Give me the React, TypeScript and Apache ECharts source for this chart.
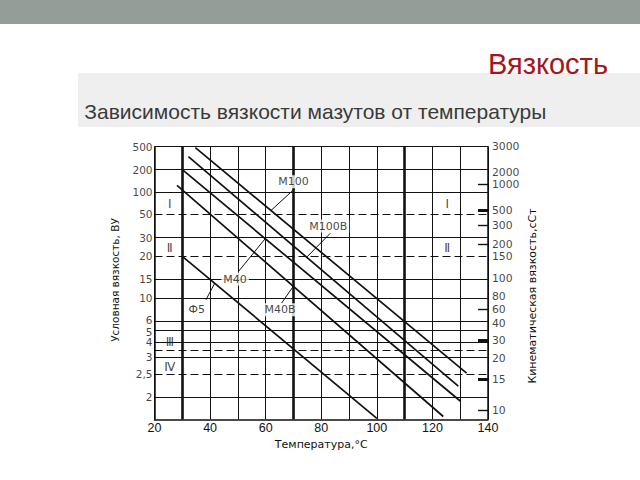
import React, { useEffect, useRef } from "react";
import * as echarts from "echarts";

// ---------- data ----------
// temperature axis (°C)
const tempMin = 20;
const tempMax = 140;
const tempStep = 10;
const heavyTemps = [30, 70, 110];

// left scale: conditional viscosity, °ВУ (nomogram scale: tick value -> scale position)
const vuTicks = [500, 200, 100, 50, 30, 20, 15, 10, 6, 5, 4, 3, 2.5, 2];
const vuTickLabels = ["500", "200", "100", "50", "30", "20", "15", "10", "6", "5", "4", "3", "2,5", "2"];
const vuScale = [272.6, 249.7, 227.1, 205.1, 181.8, 163.0, 140.2, 121.3, 98.3, 89.0, 77.0, 62.0, 45.0, 22.0];
const vuDashed = [50, 20, 3.45, 2.5];

// right scale: kinematic viscosity, cSt
const cstTicks = [3000, 2000, 1000, 500, 300, 200, 150, 100, 80, 60, 40, 30, 20, 15, 10];
const cstScale = [272.6, 247.0, 235.0, 209.3, 194.3, 175.0, 163.3, 141.0, 123.3, 110.0, 96.0, 79.3, 61.0, 40.0, 9.3];
const cstMarked = [1000, 500, 300, 200, 60, 30, 15, 10];
const cstMarkedHeavy = [500, 30, 15];

// fuel oil grades: straight lines (temperature, °ВУ)
const grades = ["М100", "М100В", "М40", "М40В", "Ф5"];
const gradeStartT = [34.7, 32.2, 30, 28.1, 30];
const gradeStartVU = [480, 335, 200, 123.6, 20];
const gradeEndT = [132.3, 129.3, 130, 123.9, 100];
const gradeEndVU = [2.53, 2.23, 1.93, 1.66, 1.63];

// grade captions and their leader lines
const gradeLabelT = [70, 82.5, 49, 65.2, 35.2];
const gradeLabelVU = [138, 38.6, 15, 7.7, 7.7];
const leaderFromT = [70.3, 83.2, 50.2, 65.7, 38.5];
const leaderFromVU = [110, 32.8, 16.5, 8.9, 9.6];
const leaderToT = [61.9, 74.8, 59.9, 69.9, 41.6];
const leaderToVU = [56.2, 19.8, 29.4, 12.8, 13.6];

// zone numerals
const zones = ["Ⅰ", "Ⅰ", "Ⅱ", "Ⅱ", "Ⅲ", "Ⅳ"];
const zoneT = [25.5, 125.3, 25.5, 125.3, 25.5, 25.5];
const zoneVU = [70, 70, 23.7, 23.7, 4, 2.71];

// ---------- helpers ----------
function scalePos(v: number, ticks: number[], pos: number[]): number {
  const lv = Math.log10(v);
  let i = 0;
  while (i < ticks.length - 2 && lv < Math.log10(ticks[i + 1])) i++;
  const a = Math.log10(ticks[i]);
  const b = Math.log10(ticks[i + 1]);
  return pos[i] + ((lv - a) / (b - a)) * (pos[i + 1] - pos[i]);
}
const vu = (v: number) => scalePos(v, vuTicks, vuScale);
const cst = (v: number) => scalePos(v, cstTicks, cstScale);

const INK = "#111";
const FONT = "DejaVu Sans";

function labelSeries(data: any[], position: any, distance: number, extra: any = {}) {
  return {
    type: "scatter",
    symbolSize: 1,
    itemStyle: { color: "rgba(0,0,0,0)" },
    clip: false,
    silent: true,
    z: 6,
    data,
    label: {
      show: true,
      position,
      distance,
      formatter: "{b}",
      fontFamily: FONT,
      fontSize: 11,
      color: INK,
      ...extra,
    },
  };
}

const centered = { align: "center", verticalAlign: "middle" };

function buildOption(): any {
  const top = vuScale[0];
  const gridLines: any[] = [];
  heavyTemps.forEach((t) =>
    gridLines.push({ xAxis: t, lineStyle: { color: INK, width: 2.6, type: "solid" } })
  );
  vuTicks
    .filter((v) => vuDashed.indexOf(v) < 0)
    .forEach((v) => gridLines.push({ yAxis: vu(v), lineStyle: { color: INK, width: 1.2, type: "solid" } }));
  vuDashed.forEach((v) =>
    gridLines.push({ yAxis: vu(v), lineStyle: { color: INK, width: 1.2, type: [8, 4] } })
  );
  cstMarked.forEach((c) => {
    const w = cstMarkedHeavy.indexOf(c) >= 0 ? 3 : 1.4;
    gridLines.push([
      { coord: [tempMax - 3.6, cst(c)], lineStyle: { color: INK, width: w, type: "solid" } },
      { coord: [tempMax, cst(c)], lineStyle: { color: INK, width: w, type: "solid" } },
    ]);
  });

  const leaders = grades.map((_, i) => [
    { coord: [leaderFromT[i], vu(leaderFromVU[i])] },
    { coord: [leaderToT[i], vu(leaderToVU[i])] },
  ]);

  const series: any[] = [
    {
      type: "line",
      z: 1,
      silent: true,
      showSymbol: false,
      symbol: "none",
      lineStyle: { width: 0 },
      data: [[tempMin, 0]],
      markLine: {
        silent: true,
        symbol: ["none", "none"],
        label: { show: false },
        animation: false,
        data: gridLines,
      },
    },
  ];

  grades.forEach((g, i) => {
    series.push({
      type: "line",
      name: g,
      z: 3,
      silent: true,
      showSymbol: false,
      symbol: "none",
      lineStyle: { color: INK, width: 1.7 },
      data: [
        [gradeStartT[i], vu(gradeStartVU[i])],
        [gradeEndT[i], vu(gradeEndVU[i])],
      ],
    });
  });

  series.push({
    type: "line",
    z: 3,
    silent: true,
    showSymbol: false,
    symbol: "none",
    lineStyle: { width: 0 },
    data: [[tempMin, 0]],
    markLine: {
      silent: true,
      symbol: ["none", "none"],
      label: { show: false },
      animation: false,
      lineStyle: { color: INK, width: 1, type: "solid" },
      data: leaders,
    },
  });

  series.push(
    labelSeries(
      grades.map((g, i) => ({ name: g, value: [gradeLabelT[i], vu(gradeLabelVU[i])] })),
      [0.5, 0.5],
      0,
      { ...centered, backgroundColor: "#fff", padding: [1, 2] }
    )
  );
  series.push(
    labelSeries(
      zones.map((z, i) => ({ name: z, value: [zoneT[i], vu(zoneVU[i])] })),
      [0.5, 0.5],
      0,
      { ...centered, fontSize: 12, lineHeight: 11 }
    )
  );
  series.push(
    labelSeries(
      vuTicks.map((v, i) => ({
        name: vuTickLabels[i],
        value: [tempMin, vu(v)],
        label: v === 6 ? { offset: [0, -1.2] } : v === 5 ? { offset: [0, 1.2] } : undefined,
      })),
      "left",
      1.5,
      { fontSize: 10.5, lineHeight: 9 }
    )
  );
  series.push(
    labelSeries(
      cstTicks.map((c) => ({ name: String(c), value: [tempMax, cst(c)] })),
      "right",
      3.5,
      { fontSize: 10.8, lineHeight: 10 }
    )
  );

  return {
    animation: false,
    backgroundColor: "#fff",
    textStyle: { fontFamily: FONT },
    graphic: [
      { type: "rect", shape: { x: 0, y: 0, width: 640, height: 24 }, style: { fill: "#939e98" } },
      { type: "rect", shape: { x: 78, y: 73, width: 562, height: 54 }, style: { fill: "#efefef" } },
      {
        type: "text",
        x: 608,
        y: 63.7,
        style: {
          text: "Вязкость",
          font: '29px "Liberation Sans"',
          fill: "#a3161c",
          align: "right",
          verticalAlign: "middle",
        },
      },
      {
        type: "text",
        x: 84.3,
        y: 111.3,
        style: {
          text: "Зависимость вязкости мазутов от температуры",
          font: '21px "Liberation Sans"',
          fill: "#3a3a3a",
          align: "left",
          verticalAlign: "middle",
        },
      },
    ],
    grid: { left: 154.5, right: 152, top: 146.7, bottom: 60.7, containLabel: false, outerBoundsMode: "none" },
    xAxis: {
      type: "value",
      min: tempMin,
      max: tempMax,
      interval: tempStep,
      axisLine: { show: true, onZero: false, lineStyle: { color: INK, width: 1.5 } },
      axisTick: { show: false },
      splitLine: { show: true, lineStyle: { color: INK, width: 1 } },
      axisLabel: {
        formatter: (v: number) => (v % 20 === 0 ? String(v) : ""),
        fontFamily: "Liberation Sans",
        fontSize: 12.5,
        color: INK,
        margin: 2,
      },
      name: "Температура,°С",
      nameLocation: "middle",
      nameGap: 18,
      nameTextStyle: { fontFamily: FONT, fontSize: 11, color: INK },
    },
    yAxis: [
      {
        type: "value",
        min: 0,
        max: top,
        axisLine: { show: true, lineStyle: { color: INK, width: 1.5 } },
        axisTick: { show: false },
        axisLabel: { show: false },
        splitLine: { show: false },
        name: "Условная вязкость, ВУ",
        nameLocation: "middle",
        nameRotate: 90,
        nameGap: 34,
        nameTextStyle: { fontFamily: FONT, fontSize: 10.5, color: INK, padding: [0, 0, 0, 6] },
      },
      {
        type: "value",
        position: "right",
        min: 0,
        max: top,
        axisLine: { show: true, lineStyle: { color: INK, width: 1.5 } },
        axisTick: { show: false },
        axisLabel: { show: false },
        splitLine: { show: false },
        name: "Кинематическая вязкость,сСт",
        nameLocation: "middle",
        nameRotate: 90,
        nameGap: 39,
        nameTextStyle: { fontFamily: FONT, fontSize: 11, color: INK, padding: [0, 26, 0, 0] },
      },
    ],
    series,
  };
}

export default function App() {
  const ref = useRef<HTMLDivElement>(null);
  useEffect(() => {
    if (!ref.current) return;
    const chart = echarts.init(ref.current, undefined, { renderer: "svg" });
    chart.setOption(buildOption());
    return () => chart.dispose();
  }, []);
  return (
    <div
      ref={ref}
      style={{ position: "absolute", left: 0, top: 0, width: 640, height: 480, background: "#fff" }}
    />
  );
}
